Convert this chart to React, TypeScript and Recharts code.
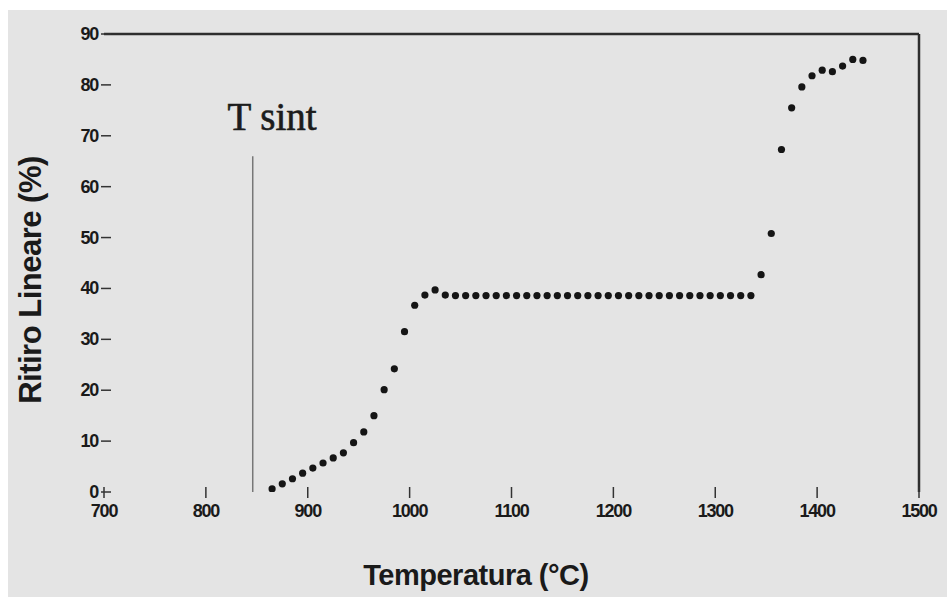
import { ScatterChart, Scatter, XAxis, YAxis, ReferenceLine } from 'recharts';

// temperatures (°C) of the measured points
const temps = [
  865, 875, 885, 895, 905, 915, 925, 935, 945, 955,
  965, 975, 985, 995, 1005, 1015, 1025, 1035, 1045, 1055,
  1065, 1075, 1085, 1095, 1105, 1115, 1125, 1135, 1145, 1155,
  1165, 1175, 1185, 1195, 1205, 1215, 1225, 1235, 1245, 1255,
  1265, 1275, 1285, 1295, 1305, 1315, 1325, 1335, 1345, 1355,
  1365, 1375, 1385, 1395, 1405, 1415, 1425, 1435, 1445,
];

// linear shrinkage (%)
const shrink = [
  0.6, 1.6, 2.6, 3.7, 4.7, 5.7, 6.7, 7.7, 9.7, 11.8,
  15.0, 20.1, 24.2, 31.5, 36.7, 38.7, 39.7, 38.7, 38.6, 38.6,
  38.6, 38.6, 38.6, 38.6, 38.6, 38.6, 38.6, 38.6, 38.6, 38.6,
  38.6, 38.6, 38.6, 38.6, 38.6, 38.6, 38.6, 38.6, 38.6, 38.6,
  38.6, 38.6, 38.6, 38.6, 38.6, 38.6, 38.6, 38.6, 42.7, 50.8,
  67.3, 75.5, 79.6, 81.8, 82.9, 82.6, 83.7, 85.0, 84.8,
];

const xTicks = [700, 800, 900, 1000, 1100, 1200, 1300, 1400, 1500];
const yTicks = [0, 10, 20, 30, 40, 50, 60, 70, 80, 90];
const tSint = 846;

const points = temps.map((t, i) => ({ t, v: shrink[i] }));

const tickFont = {
  fontFamily: '"Liberation Sans", Arial, sans-serif',
  fontWeight: 700,
  fontSize: 18,
  letterSpacing: -1.2,
};

const renderYTick = (props: any) => {
  const { x, y, payload } = props;
  return (
    <g key={`y-${payload.value}`}>
      <line x1={x - 3} x2={x + 7} y1={y} y2={y} stroke="#333" strokeWidth={1.5} />
      <text x={x - 6} y={y + 6} textAnchor="end" fill="#1a1a1a" style={tickFont}>
        {payload.value}
      </text>
    </g>
  );
};

const renderXTick = (props: any) => {
  const { x, y, payload } = props;
  return (
    <g key={`x-${payload.value}`}>
      <line x1={x} x2={x} y1={y - 5} y2={y + 6} stroke="#333" strokeWidth={1.5} />
      <text x={x} y={y + 25} textAnchor="middle" fill="#1a1a1a" style={tickFont}>
        {payload.value}
      </text>
    </g>
  );
};

const Dot = (props: any) => <circle cx={props.cx} cy={props.cy} r={3.6} fill="#151515" />;

export default function App() {
  return (
    <div style={{ position: 'absolute', left: 0, top: 0, width: 947, height: 597, background: '#fff' }}>
      <div style={{ position: 'absolute', left: 8, top: 10, width: 939, height: 587, background: '#e4e4e4' }} />
      <div style={{ position: 'absolute', left: 0, top: 0 }}>
        <ScatterChart width={947} height={597} margin={{ top: 34, right: 28, bottom: 0, left: 0 }}>
          <XAxis
            type="number"
            dataKey="t"
            domain={[700, 1500]}
            ticks={xTicks}
            interval={0}
            height={105}
            axisLine={false}
            tickLine={false}
            tickSize={0}
            tickMargin={0}
            tick={renderXTick}
            allowDataOverflow
          />
          <YAxis
            type="number"
            dataKey="v"
            domain={[0, 90]}
            ticks={yTicks}
            interval={0}
            width={104}
            axisLine={false}
            tickLine={false}
            tickSize={0}
            tickMargin={0}
            tick={renderYTick}
            allowDataOverflow
          />
          <ReferenceLine y={90} stroke="#2e2e2e" strokeWidth={2.5} />
          <ReferenceLine x={1500} stroke="#2e2e2e" strokeWidth={2.5} />
          <ReferenceLine
            segment={[{ x: tSint, y: 0 }, { x: tSint, y: 66 }]}
            stroke="#777"
            strokeWidth={1.5}
          />
          <Scatter data={points} shape={<Dot />} isAnimationActive={false} />
        </ScatterChart>
      </div>
      <svg width={947} height={597} style={{ position: 'absolute', left: 0, top: 0, pointerEvents: 'none' }}>
        <text
          x={272}
          y={130}
          textAnchor="middle"
          fill="#1c1c1c"
          stroke="#1c1c1c"
          strokeWidth={0.6}
          style={{ fontFamily: '"Liberation Serif", "Times New Roman", serif', fontSize: 39 }}
        >
          T sint
        </text>
        <text
          x={476}
          y={585}
          textAnchor="middle"
          fill="#1a1a1a"
          style={{ fontFamily: '"Liberation Sans", Arial, sans-serif', fontWeight: 700, fontSize: 29, letterSpacing: -0.5 }}
        >
          Temperatura (°C)
        </text>
        <text
          transform="translate(41, 280) rotate(-90)"
          textAnchor="middle"
          fill="#1a1a1a"
          style={{ fontFamily: '"Liberation Sans", Arial, sans-serif', fontWeight: 700, fontSize: 31, letterSpacing: -0.5 }}
        >
          Ritiro Lineare (%)
        </text>
      </svg>
    </div>
  );
}
